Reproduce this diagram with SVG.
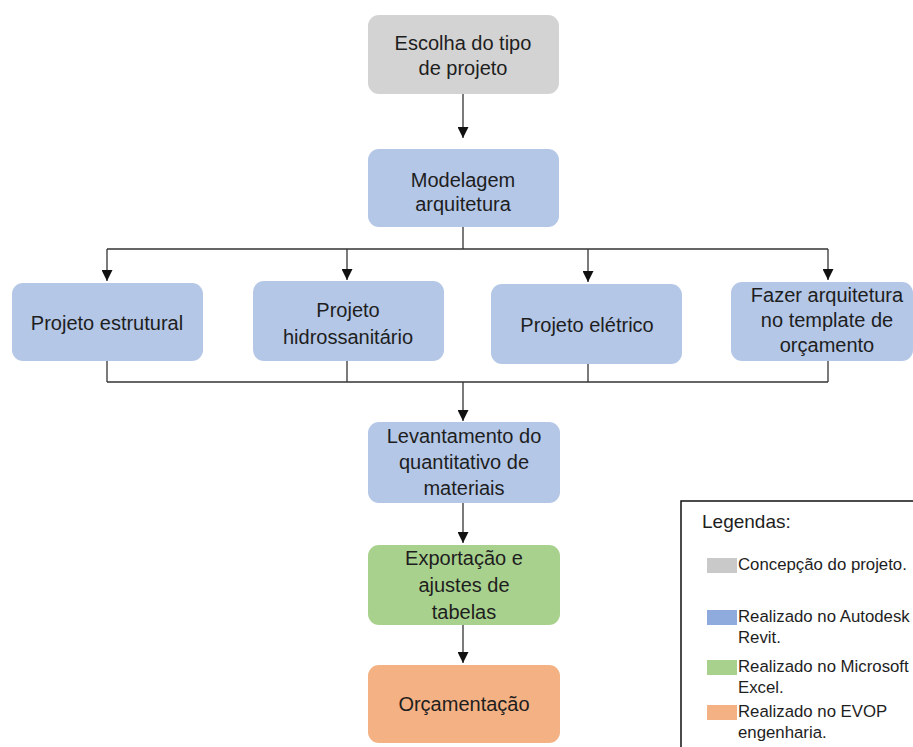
<svg xmlns="http://www.w3.org/2000/svg" width="913" height="747" viewBox="0 0 913 747">
<defs>
<style>
.box{stroke:none}
.gray{fill:#d3d3d3}
.blue{fill:#b4c7e7}
.green{fill:#a9d18e}
.orange{fill:#f4b183}
.t{font-family:"Liberation Sans",Arial,sans-serif;font-size:20px;fill:#1e1e1e;text-anchor:middle}
.lg{font-family:"Liberation Sans",Arial,sans-serif;font-size:16.8px;fill:#1e1e1e}
.ln{fill:none;stroke:#333;stroke-width:1.3}
</style>
<marker id="ah" markerWidth="11" markerHeight="11" refX="11" refY="5.5" orient="auto" markerUnits="userSpaceOnUse">
<path d="M0,0 L11,5.5 L0,11 Z" fill="#111"/>
</marker>
</defs>
<rect width="913" height="747" fill="#ffffff"/>

<g id="connectors">
<line class="ln" x1="463" y1="94" x2="463" y2="138" marker-end="url(#ah)"/>
<polyline class="ln" points="463,227 463,249"/>
<line class="ln" x1="107" y1="249" x2="828" y2="249"/>
<line class="ln" x1="107" y1="249" x2="107" y2="281" marker-end="url(#ah)"/>
<line class="ln" x1="347" y1="249" x2="347" y2="280" marker-end="url(#ah)"/>
<line class="ln" x1="588" y1="249" x2="588" y2="282" marker-end="url(#ah)"/>
<line class="ln" x1="828" y1="249" x2="828" y2="280" marker-end="url(#ah)"/>
<line class="ln" x1="107" y1="361" x2="107" y2="382"/>
<line class="ln" x1="347" y1="361" x2="347" y2="382"/>
<line class="ln" x1="588" y1="364" x2="588" y2="382"/>
<line class="ln" x1="828" y1="361" x2="828" y2="382"/>
<line class="ln" x1="107" y1="382" x2="828" y2="382"/>
<line class="ln" x1="463" y1="382" x2="463" y2="421" marker-end="url(#ah)"/>
<line class="ln" x1="463" y1="503" x2="463" y2="543" marker-end="url(#ah)"/>
<line class="ln" x1="463" y1="625" x2="463" y2="663" marker-end="url(#ah)"/>
</g>

<g id="escolha">
<rect class="box gray" x="368" y="15" width="191" height="79" rx="11"/>
<text class="t" x="463" y="50">Escolha do tipo</text>
<text class="t" x="463" y="75">de projeto</text>
</g>

<g id="modelagem">
<rect class="box blue" x="368" y="149" width="191" height="78" rx="11"/>
<text class="t" x="463" y="187">Modelagem</text>
<text class="t" x="463" y="211">arquitetura</text>
</g>

<g id="estrutural">
<rect class="box blue" x="12" y="283" width="191" height="78" rx="11"/>
<text class="t" x="107" y="330">Projeto estrutural</text>
</g>

<g id="hidrossanitario">
<rect class="box blue" x="253" y="281" width="191" height="80" rx="11"/>
<text class="t" x="348" y="317">Projeto</text>
<text class="t" x="348" y="344">hidrossanitário</text>
</g>

<g id="eletrico">
<rect class="box blue" x="491" y="284" width="191" height="80" rx="11"/>
<text class="t" x="587" y="332">Projeto elétrico</text>
</g>

<g id="fazer">
<rect class="box blue" x="731" y="282" width="182" height="79" rx="11"/>
<text class="t" x="827" y="302">Fazer arquitetura</text>
<text class="t" x="827" y="327">no template de</text>
<text class="t" x="827" y="352">orçamento</text>
</g>

<g id="levantamento">
<rect class="box blue" x="368" y="422" width="192" height="81" rx="11"/>
<text class="t" x="464" y="443">Levantamento do</text>
<text class="t" x="464" y="469">quantitativo de</text>
<text class="t" x="464" y="495">materiais</text>
</g>

<g id="exportacao">
<rect class="box green" x="368" y="545" width="192" height="80" rx="11"/>
<text class="t" x="464" y="565">Exportação e</text>
<text class="t" x="464" y="592">ajustes de</text>
<text class="t" x="464" y="619">tabelas</text>
</g>

<g id="orcamentacao">
<rect class="box orange" x="368" y="665" width="192" height="78" rx="11"/>
<text class="t" x="464" y="711">Orçamentação</text>
</g>

<g id="legenda">
<rect x="681" y="501" width="240" height="260" fill="#ffffff" stroke="#111" stroke-width="1.5"/>
<text class="lg" x="702" y="528" style="font-size:19px">Legendas:</text>
<rect x="707" y="558" width="30" height="15" fill="#c9c9c9"/>
<text class="lg" x="738" y="570">Concepção do projeto.</text>
<rect x="707" y="610" width="30" height="15" fill="#8faadc"/>
<text class="lg" x="738" y="622">Realizado no Autodesk</text>
<text class="lg" x="738" y="643">Revit.</text>
<rect x="707" y="660" width="30" height="15" fill="#a9d18e"/>
<text class="lg" x="738" y="672">Realizado no Microsoft</text>
<text class="lg" x="738" y="693">Excel.</text>
<rect x="707" y="705" width="30" height="15" fill="#f4b183"/>
<text class="lg" x="738" y="717">Realizado no EVOP</text>
<text class="lg" x="738" y="738">engenharia.</text>
</g>
</svg>
